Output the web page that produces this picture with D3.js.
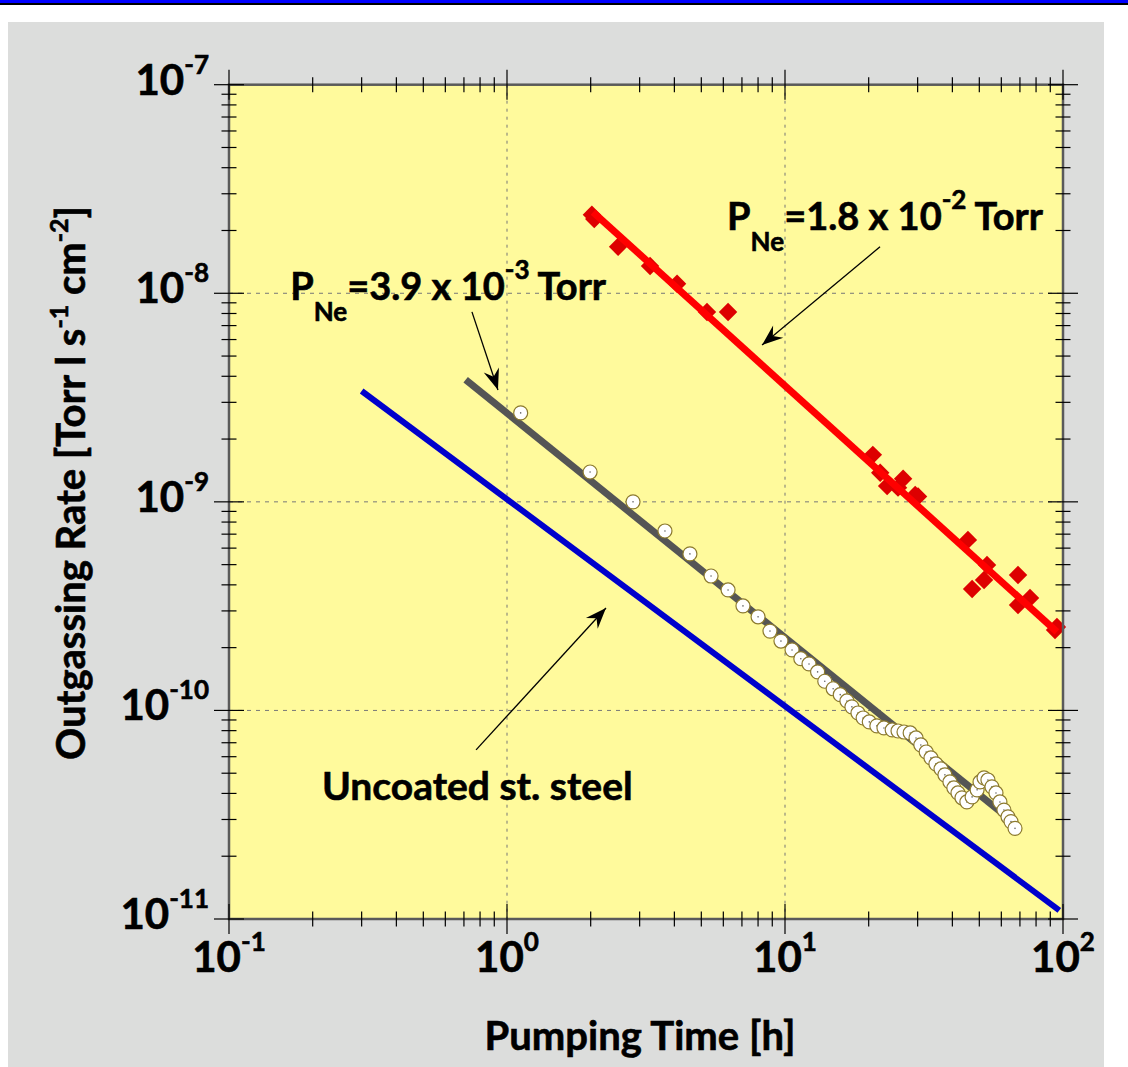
<!DOCTYPE html>
<html><head><meta charset="utf-8">
<script src="https://cdn.jsdelivr.net/npm/d3@7"></script>
<style>html,body{margin:0;padding:0;background:#fff;} svg{display:block;}</style>
</head><body><div id="chart"></div>
<script>
// ---- data ----
const xTickExps = [-1, 0, 1, 2];
const yTickExps = [-11, -10, -9, -8, -7];
const steelT = [0.3, 97];
const steelRate = [3.4e-9, 1.1e-11];
const fit39T = [0.71, 64.5];
const fit39Rate = [3.85e-9, 3.0e-11];
const fit18T = [2.04, 95.1];
const fit18Rate = [2.45e-8, 2.38e-10];
const ne39T = [1.12,1.99,2.84,3.70,4.55,5.42,6.24,7.06,8.00,8.83,9.67,10.6,11.4,12.2,13.1,13.9,14.9,15.8,16.7,17.4,18.3,19.1,20.1,21.4,22.7,24.3,25.5,26.8,28.2,29.6,30.8,32.2,33.5,34.9,36.4,37.6,39.2,40.5,41.9,43.3,45.1,47.1,49.1,50.3,52.0,53.7,55.5,57.4,59.3,61.3,63.4,65.0,67.2];
const ne39Rate = [2.67e-9,1.39e-9,1.0e-9,7.25e-10,5.63e-10,4.41e-10,3.78e-10,3.17e-10,2.81e-10,2.40e-10,2.15e-10,1.95e-10,1.77e-10,1.67e-10,1.53e-10,1.38e-10,1.27e-10,1.19e-10,1.11e-10,1.04e-10,9.72e-11,9.20e-11,8.81e-11,8.43e-11,8.24e-11,8.06e-11,7.97e-11,7.88e-11,7.80e-11,7.38e-11,6.83e-11,6.32e-11,5.92e-11,5.54e-11,5.24e-11,4.91e-11,4.54e-11,4.25e-11,4.02e-11,3.81e-11,3.64e-11,3.85e-11,4.16e-11,4.54e-11,4.75e-11,4.64e-11,4.30e-11,4.02e-11,3.64e-11,3.33e-11,3.09e-11,2.93e-11,2.72e-11];
const ne18T = [2.02,2.06,2.51,3.27,4.09,5.24,6.24,20.7,22.0,23.3,25.5,26.6,29.4,30.1,45.5,47.1,53.3,52.0,68.9,68.9,76.1,93.6,95.1];
const ne18Rate = [2.38e-8,2.27e-8,1.67e-8,1.35e-8,1.11e-8,8.13e-9,8.13e-9,1.68e-9,1.38e-9,1.19e-9,1.17e-9,1.29e-9,1.08e-9,1.06e-9,6.57e-10,3.82e-10,4.98e-10,4.22e-10,4.46e-10,3.20e-10,3.46e-10,2.43e-10,2.51e-10];
// annotations (data coords)
const arrowTail = [[21.97, 1.67e-8], [0.748, 8.14e-9], [0.774, 6.47e-11]];
const arrowHead = [[8.27, 5.65e-9], [0.928, 3.44e-9], [2.27, 3.10e-10]];
const labelPos = [[6.19, 2.01e-8], [0.166, 9.29e-9], [0.216, 3.72e-11]];
const labelText = [
  [{t:"P"},{t:"Ne",s:"sub"},{t:"=1.8 x 10"},{t:"-2",s:"sup"},{t:" Torr"}],
  [{t:"P"},{t:"Ne",s:"sub"},{t:"=3.9 x 10"},{t:"-3",s:"sup"},{t:" Torr"}],
  [{t:"Uncoated st. steel"}]
];
const xTitle = [{t:"Pumping Time [h]"}];
const yTitle = [{t:"Outgassing Rate [Torr l s"},{t:"-1",s:"sup"},{t:" cm"},{t:"-2",s:"sup"},{t:"]"}];

// ---- layout ----
const W = 1128, H = 1067;
const L = 229, R = 1063, T = 84.7, B = 919;
const FONT = "Lato, 'Open Sans', sans-serif";
const SX = 1.0;

const svg = d3.select("#chart").append("svg").attr("width", W).attr("height", H)
  .style("background", "#fff");

// header band
svg.append("rect").attr("x",0).attr("y",0).attr("width",W).attr("height",3).attr("fill","#0000FF");
svg.append("rect").attr("x",0).attr("y",3).attr("width",W).attr("height",2).attr("fill","#000");
svg.append("rect").attr("x",8).attr("y",22).attr("width",1096).attr("height",H-22).attr("fill","#DCDDDC");

const x = d3.scaleLog().domain([0.1, 100]).range([L, R]);
const y = d3.scaleLog().domain([1e-11, 1e-7]).range([B, T]);

svg.append("rect").attr("x",L).attr("y",T).attr("width",R-L).attr("height",B-T).attr("fill","#FFFA9C");

// grid
const isMajor = v => Math.abs(Math.log10(v) - Math.round(Math.log10(v))) < 1e-6;
const xMaj = xTickExps.map(e => Math.pow(10, e));
const yMaj = yTickExps.map(e => Math.pow(10, e));
svg.append("g").selectAll("line").data(xMaj.slice(1, -1)).join("line")
  .attr("x1", d => x(d)).attr("x2", d => x(d)).attr("y1", T).attr("y2", B)
  .attr("stroke", "#777").attr("stroke-width", 1).attr("stroke-dasharray", "3,5");
svg.append("g").selectAll("line").data(yMaj.slice(1, -1)).join("line")
  .attr("y1", d => y(d)).attr("y2", d => y(d)).attr("x1", L).attr("x2", R)
  .attr("stroke", "#777").attr("stroke-width", 1).attr("stroke-dasharray", "4,5");

const line = d3.line().x(d => x(d[0])).y(d => y(d[1]));

// steel
svg.append("path").datum(d3.zip(steelT, steelRate)).attr("d", line)
  .attr("stroke", "#0000CC").attr("stroke-width", 6).attr("fill", "none");

// red diamonds then red fit line
svg.append("g").selectAll("path").data(d3.zip(ne18T, ne18Rate)).join("path")
  .attr("d", d3.symbol(d3.symbolSquare, 170))
  .attr("transform", d => `translate(${x(d[0])},${y(d[1])}) rotate(45)`)
  .attr("fill", "#DD0000");
svg.append("path").datum(d3.zip(fit18T, fit18Rate)).attr("d", line)
  .attr("stroke", "#FF0000").attr("stroke-width", 7).attr("fill", "none");

// gray fit line then circles
svg.append("path").datum(d3.zip(fit39T, fit39Rate)).attr("d", line)
  .attr("stroke", "#555555").attr("stroke-width", 7).attr("fill", "none");
const cg = svg.append("g").selectAll("g").data(d3.zip(ne39T, ne39Rate)).join("g")
  .attr("transform", d => `translate(${x(d[0])},${y(d[1])})`);
cg.append("circle").attr("r", 7).attr("fill", "#fff").attr("stroke", "#8C7A2E").attr("stroke-width", 1.2);
cg.append("circle").attr("r", 0.8).attr("fill", "#666");

// axis box
svg.append("rect").attr("x",L).attr("y",T).attr("width",R-L).attr("height",B-T)
  .attr("fill","none").attr("stroke","#5a5a5a").attr("stroke-width",2.5);

// ticks
const tk = svg.append("g").attr("stroke", "#000").attr("stroke-width", 1.2);
x.ticks().forEach(v => {
  const h = isMajor(v) ? 15 : 7.5, px = x(v);
  tk.append("line").attr("x1",px).attr("x2",px).attr("y1",B-h).attr("y2",B+h);
  tk.append("line").attr("x1",px).attr("x2",px).attr("y1",T-h).attr("y2",T+h);
});
y.ticks().forEach(v => {
  const h = isMajor(v) ? 15 : 7.5, py = y(v);
  tk.append("line").attr("y1",py).attr("y2",py).attr("x1",L-h).attr("x2",L+h);
  tk.append("line").attr("y1",py).attr("y2",py).attr("x1",R-h).attr("x2",R+h);
});

// rich text helper
function rich(tx, ty, parts, o) {
  const g = svg.append("g").attr("transform", `translate(${tx},${ty})` + (o.rot ? ` rotate(${o.rot})` : "") + ` scale(${o.sx || SX},1)`);
  const t = g.append("text").attr("font-family", FONT).attr("font-weight", 700)
    .attr("font-size", o.size).attr("fill", "#000")
    .attr("stroke", "#000").attr("stroke-width", 0.6)
    .attr("text-anchor", o.anchor || "start");
  let cur = 0;
  parts.forEach(p => {
    const target = p.s === "sup" ? -o.supUp : p.s === "sub" ? o.subDown : 0;
    t.append("tspan").attr("dy", target - cur)
      .attr("font-size", p.s ? o.small : o.size).text(p.t);
    cur = target;
  });
  return g;
}

// tick labels
xTickExps.forEach(e => rich(x(Math.pow(10, e)), 972, [{t:"10"},{t:String(e),s:"sup"}],
  {size: 42, small: 26, supUp: 21, anchor: "middle"}));
yTickExps.forEach(e => rich(209, y(Math.pow(10, e)) + 10, [{t:"10"},{t:String(e),s:"sup"}],
  {size: 42, small: 26, supUp: 21, anchor: "end"}));

// axis titles
rich(640, 1050, xTitle, {size: 40, small: 25, supUp: 17, anchor: "middle"});
rich(85, 483, yTitle, {size: 40, small: 25, supUp: 17, anchor: "middle", rot: -90});

// annotations
svg.append("defs").append("marker").attr("id","ah").attr("viewBox","-22 -9 24 18")
  .attr("refX",0).attr("refY",0).attr("markerWidth",24).attr("markerHeight",18)
  .attr("markerUnits","userSpaceOnUse").attr("orient","auto")
  .append("path").attr("d","M0,0 L-21,-8 L-14,0 L-21,8 Z").attr("fill","#000");
arrowTail.forEach((a, i) => {
  svg.append("line").attr("x1", x(a[0])).attr("y1", y(a[1]))
    .attr("x2", x(arrowHead[i][0])).attr("y2", y(arrowHead[i][1]))
    .attr("stroke", "#000").attr("stroke-width", 1.3).attr("marker-end", "url(#ah)");
});
labelPos.forEach((p, i) => rich(x(p[0]), y(p[1]), labelText[i],
  i < 2 ? {size: 38, small: 26, supUp: 21, subDown: 21}
        : {size: 39, small: 27, supUp: 21, subDown: 21}));
</script>
</body></html>
